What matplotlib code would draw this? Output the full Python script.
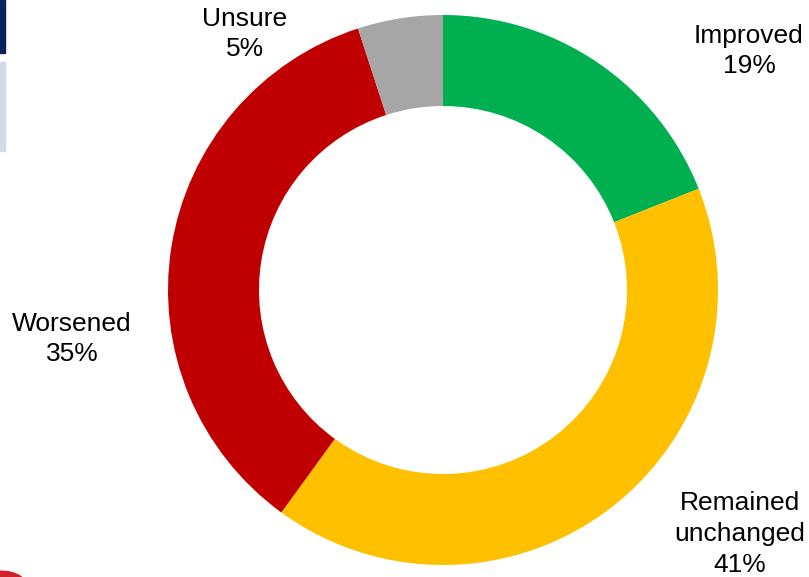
import matplotlib
matplotlib.use('Agg')
import matplotlib.pyplot as plt
from matplotlib.patches import Rectangle, Ellipse

labels = ['Improved', 'Remained\nunchanged', 'Worsened', 'Unsure']
values = [19, 41, 35, 5]
colors = ['#00B050', '#FFC000', '#C00000', '#A6A6A6']
# label anchor points in pixels (x, y from top)
label_pos = [(749, 51), (740, 534), (72, 339), (245, 34)]

W, H = 809, 577
fig = plt.figure(figsize=(W / 100, H / 100), dpi=100)
ax = fig.add_axes([0, 0, 1, 1])

ax.pie(values, colors=colors, startangle=90, counterclock=False,
       center=(443, H - 290), radius=275,
       wedgeprops=dict(width=91, linewidth=0))
ax.set_xlim(0, W)
ax.set_ylim(0, H)
ax.set_aspect('equal')
ax.axis('off')

for lab, v, (x, y) in zip(labels, values, label_pos):
    ax.text(x, H - y, f'{lab}\n{v}%', ha='center', va='center',
            multialignment='center', fontsize=19,
            family=['Liberation Sans', 'DejaVu Sans'], color='#000000',
            linespacing=1.35)

# bits of slide decoration cut off at the left edge
fig.patches.append(Rectangle((0, 1 - 53 / H), 5 / W, 53 / H,
                             transform=fig.transFigure, color='#0B2260'))
fig.patches.append(Rectangle((0, 1 - 151 / H), 5 / W, 89 / H,
                             transform=fig.transFigure, color='#D3DAE8'))
fig.patches.append(Ellipse((8 / W, -2 / H), 34 / W, 14 / H, angle=-20,
                           transform=fig.transFigure, color='#D0202A'))

plt.savefig('out.png', dpi=100)
